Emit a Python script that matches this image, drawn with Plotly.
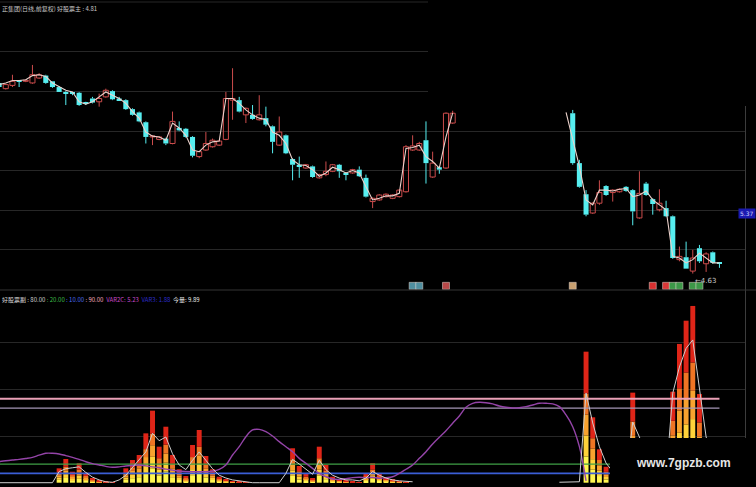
import plotly.graph_objects as go

# ---------------- price pane (daily candles, None = no price drawn) ----------------
opens = [6.96, 6.89, 6.93, 6.99, 6.98, 6.96, 7.02, 7.05, 6.98, 6.91,
         6.85, 6.84, 6.84, 6.72, 6.77, 6.73, 6.79, 6.86, 6.77, 6.75,
         6.64, 6.60, 6.48, 6.30, 6.27, 6.28, 6.22, 6.41, 6.40, 6.30,
         6.06, 6.14, 6.18, 6.20, 6.27, 6.75, 6.75, 6.57, 6.57, 6.51,
         6.53, 6.43, 6.20, 6.32, 6.03, 5.96, 5.92, 5.94, 5.80, 5.84,
         5.88, 5.96, 5.86, 5.86, 5.90, 5.80, 5.51, 5.53, 5.57, 5.55,
         5.57, 5.63, 6.14, 6.14, 6.26, 5.81, 5.93, 5.92, 6.47] + [None] * 17 + [
         6.59, 5.98, 5.60, 5.37, 5.49, 5.70, 5.62, 5.63, 5.69, 5.65,
         5.31, 5.73, 5.54, 5.41, 5.43, 5.33, 4.80, 4.83, 4.66, 4.94, 4.75, 4.89, 4.76]
highs = [6.98, 6.95, 7.06, 6.99, 7.00, 7.18, 7.08, 7.06, 6.98, 6.92,
         6.86, 6.85, 6.85, 6.73, 6.79, 6.83, 6.89, 6.87, 6.79, 6.76,
         6.65, 6.61, 6.49, 6.32, 6.31, 6.29, 6.61, 6.49, 6.41, 6.31,
         6.13, 6.36, 6.28, 6.26, 6.85, 7.14, 6.79, 6.66, 6.69, 6.81,
         6.67, 6.44, 6.55, 6.33, 6.04, 6.06, 5.97, 5.95, 5.85, 6.00,
         5.97, 5.97, 5.87, 5.91, 5.94, 5.84, 5.56, 5.60, 5.61, 5.60,
         5.66, 6.20, 6.32, 6.24, 6.49, 6.12, 5.94, 6.60, 6.62] + [None] * 17 + [
         6.63, 6.02, 5.65, 5.50, 5.77, 5.71, 5.66, 5.67, 5.70, 5.66,
         5.88, 5.75, 5.55, 5.66, 5.52, 5.34, 4.96, 5.02, 4.92, 4.98, 4.89, 4.90, 4.77]
lows = [6.90, 6.88, 6.91, 6.91, 6.97, 6.95, 7.01, 6.95, 6.90, 6.85,
        6.69, 6.81, 6.68, 6.69, 6.71, 6.67, 6.78, 6.75, 6.74, 6.63,
        6.56, 6.48, 6.22, 6.20, 6.26, 6.20, 6.21, 6.37, 6.29, 6.05,
        6.04, 6.13, 6.17, 6.19, 6.26, 6.51, 6.60, 6.47, 6.51, 6.50,
        6.43, 6.10, 6.19, 6.09, 5.77, 5.80, 5.91, 5.80, 5.79, 5.82,
        5.87, 5.80, 5.77, 5.85, 5.81, 5.56, 5.43, 5.52, 5.56, 5.54,
        5.56, 5.62, 6.13, 6.13, 5.73, 5.80, 5.85, 5.91, 6.46] + [None] * 17 + [
        5.96, 5.68, 5.33, 5.36, 5.47, 5.58, 5.51, 5.62, 5.63, 5.22,
        5.30, 5.58, 5.35, 5.39, 5.32, 4.81, 4.78, 4.69, 4.63, 4.76, 4.65, 4.75, 4.70]
closes = [6.91, 6.94, 6.98, 6.98, 6.99, 7.06, 7.06, 6.96, 6.91, 6.85,
          6.83, 6.83, 6.69, 6.71, 6.72, 6.77, 6.87, 6.76, 6.75, 6.64,
          6.57, 6.49, 6.30, 6.31, 6.30, 6.22, 6.49, 6.38, 6.30, 6.07,
          6.12, 6.22, 6.26, 6.25, 6.77, 6.77, 6.61, 6.65, 6.52, 6.57,
          6.45, 6.24, 6.36, 6.10, 5.96, 5.94, 5.96, 5.81, 5.84, 5.88,
          5.96, 5.88, 5.84, 5.90, 5.82, 5.57, 5.55, 5.59, 5.60, 5.59,
          5.65, 6.18, 6.19, 6.22, 5.98, 5.98, 5.90, 6.59, 6.59] + [None] * 17 + [
          5.98, 5.69, 5.35, 5.49, 5.62, 5.59, 5.65, 5.66, 5.64, 5.39,
          5.61, 5.59, 5.48, 5.49, 5.33, 4.82, 4.84, 4.69, 4.82, 4.78, 4.87, 4.76, 4.75]
main_line = [6.94, 6.96, 6.99, 6.99, 7.00, 7.05, 7.06, 7.04, 6.96, 6.91,
             6.87, 6.85, 6.73, 6.70, 6.73, 6.79, 6.85, 6.81, 6.77, 6.71,
             6.61, 6.53, 6.36, 6.31, 6.30, 6.26, 6.47, 6.41, 6.32, 6.14,
             6.12, 6.20, 6.24, 6.25, 6.77, 6.77, 6.71, 6.63, 6.57, 6.53,
             6.51, 6.36, 6.32, 6.22, 6.02, 5.96, 5.95, 5.90, 5.82, 5.86,
             5.93, 5.90, 5.86, 5.89, 5.86, 5.69, 5.53, 5.55, 5.58, 5.58,
             5.61, 6.16, 6.17, 6.20, 6.06, 6.00, 5.92, 6.30, 6.59] + [None] * 16 + [6.60,
             6.26, 5.94, 5.53, 5.47, 5.65, 5.65, 5.64, 5.66, 5.67, 5.57,
             5.59, 5.64, 5.53, 5.47, 5.41, 4.84, 4.82, 4.76, 4.80, 4.88, 4.82, 4.76, 4.76]
price_grid = [4.92, 5.40, 5.89, 6.37, 6.86, 7.34]
low_mark = 4.63
low_mark_idx = 104
cursor_price = 5.37
main_value = 4.81

# signal boxes under the candles
signal_idx = [62, 63, 67, 86, 98, 100, 101, 102, 104, 105]
signal_colors = ['#4f8fa0', '#4f8fa0', '#b84848', '#c8a070', '#d83030',
                 '#d83838', '#3c9848', '#3c9848', '#3c9848', '#3c9848']

# ---------------- indicator pane ----------------
vol_bars = [0] * 9 + [15.4, 25.4, 11.8, 20.8, 10.7, 4.7, 2.0, 1.0, 0.5] + [0] + [
    15.4, 24.3, 29.7, 52.9, 77.2, 38.6, 60.0, 29.7, 14.4, 7.2, 40.4, 56.5, 28.6,
    14.4, 6.4, 3.6, 1.5, 1.0, 0.5] + [0] * 6 + [
    36.9, 17.9, 9.3, 4.7, 38.6, 19.0, 6.4, 3.6, 2.0, 1.0, 0.5, 10.0, 20.8, 10.0,
    5.8, 3.0, 1.5, 0.5] + [0] * 26 + [
    140.4, 70.1, 35.8, 17.1, 8.5, 4.2, 2.1, 96.5, 45.0, 22.0, 11.0, 5.5, 2.8,
    97.5, 148.7, 173.6, 189.4, 95.0, 45.0, 22.0, 11.0]
vol_line = [0] * 9 + [12, 15, 16, 17, 11, 6, 3, 1, 0.5] + [3] + [
    8, 16, 24, 33, 53, 45, 49, 31, 19, 14, 24, 33, 24, 15, 8, 5, 3, 2, 1] + [
    0, 0, 0, 0, 0, 10] + [
    25, 20, 14, 9, 24, 14, 8, 5, 3, 3, 2, 5, 12, 8, 5, 3, 2, 1.5] + [1] + [None] * 21 + [
    0.5, 0.5, 0.5, 1] + [
    96, 64, 38.6, 21, 12, 7, 4, 65, 49, 30, 18, 10, 6, 96, 124, 144, 153, 99, 49, 28, 16]
trend_line = [22.5, 23.5, 24.3, 25.0, 26.0, 27.2, 29.5, 31.5, 31.5, 30.8,
              29.0, 27.2, 25.0, 22.5, 20.5, 19.0, 17.5, 16.5, 17.0, 17.9,
              18.5, 19.0, 18.0, 17.0, 16.0, 14.5, 13.5, 12.5, 12.0, 11.8,
              11.8, 11.8, 12.5, 14.4, 19.0, 29.7, 38.6, 49.3, 56.5, 57.2,
              54.7, 50.0, 44.0, 38.6, 33.2, 26.1, 20.8, 15.4, 10.0, 6.4,
              4.0, 3.6, 4.3, 5.4, 5.8, 5.4, 5.8, 4.7, 5.4, 6.4,
              10.0, 14.4, 19.0, 26.1, 33.2, 41.5, 48.7, 55.7, 63.7, 71.5,
              80.8, 85.1, 86.2, 85.7, 84.4, 82.2, 80.8, 80.1, 80.4, 81.5,
              83.3, 85.1, 85.1, 84.5, 81.5, 72.6, 60.0, 38.6, 2.0] + [None] * 20
ref_levels = [80.0, 20.0, 10.0, 90.0]
ref_colors = ['#a496b6', '#3f9f46', '#3b5ed6', '#eaa0b6']
ref_widths = [1.2, 1.2, 1.6, 2.0]
var2c_value = 5.23
var3_value = 1.88
today_vol = 9.89
ind_grid = [50, 100, 150]

# bar colour bands, bottom (yellow) to top (red), as fractions of bar height
bands = [(0.00, 0.20, '#fff650'), (0.20, 0.36, '#ffd23a'), (0.36, 0.52, '#f8a22e'),
         (0.52, 0.68, '#ef7524'), (0.68, 1.00, '#df2518')]

UP = '#cc4c4c'
DOWN = '#56eef0'
GRID = '#272727'
idx = list(range(len(opens)))
pts = [i for i in idx if opens[i] is not None]
up = [i for i in pts if closes[i] >= opens[i]]
dn = [i for i in pts if closes[i] < opens[i]]
MIN_BODY = 0.012


def wicks(ids):
    xs, ys = [], []
    for i in ids:
        top, bot = max(opens[i], closes[i]), min(opens[i], closes[i])
        xs += [i, i, None, i, i, None]
        ys += [highs[i], top, None, bot, lows[i], None]
    return xs, ys


fig = go.Figure()

# candle wicks and bodies
for ids, col in ((up, UP), (dn, DOWN)):
    wx, wy = wicks(ids)
    fig.add_trace(go.Scatter(x=wx, y=wy, mode='lines', xaxis='x', yaxis='y',
                             line=dict(color=col, width=1), showlegend=False,
                             hoverinfo='skip'))
fig.add_trace(go.Bar(
    x=up, base=[opens[i] for i in up],
    y=[max(closes[i] - opens[i], MIN_BODY) for i in up], width=0.76,
    marker=dict(color='rgba(0,0,0,0)', line=dict(color=UP, width=1)),
    xaxis='x', yaxis='y', showlegend=False, hoverinfo='skip'))
fig.add_trace(go.Bar(
    x=dn, base=[closes[i] for i in dn],
    y=[max(opens[i] - closes[i], MIN_BODY) for i in dn], width=0.76,
    marker=dict(color=DOWN, line=dict(width=0)),
    xaxis='x', yaxis='y', showlegend=False, hoverinfo='skip'))
fig.add_trace(go.Scatter(x=idx, y=main_line, mode='lines', xaxis='x', yaxis='y',
                         line=dict(color='#ecd2cc', width=1.1), connectgaps=False,
                         showlegend=False, hoverinfo='skip'))
fig.add_trace(go.Scatter(
    x=signal_idx, y=[4.48] * len(signal_idx), mode='markers', xaxis='x', yaxis='y',
    marker=dict(symbol='square', size=7, color=signal_colors,
                line=dict(color='#e8d8d0', width=0.5)),
    showlegend=False, hoverinfo='skip'))

# indicator pane
for lvl, col, w in zip(ref_levels, ref_colors, ref_widths):
    fig.add_trace(go.Scatter(x=[idx[0], idx[-1]], y=[lvl, lvl], mode='lines',
                             xaxis='x2', yaxis='y2', line=dict(color=col, width=w),
                             showlegend=False, hoverinfo='skip'))
fig.add_trace(go.Scatter(x=idx, y=trend_line, mode='lines', xaxis='x2', yaxis='y2',
                         line=dict(color='#9444a8', width=1.4, shape='spline'),
                         showlegend=False, hoverinfo='skip'))
for f0, f1, col in bands:
    fig.add_trace(go.Bar(x=idx, y=[v * (f1 - f0) for v in vol_bars],
                         base=[v * f0 for v in vol_bars], width=0.74,
                         marker=dict(color=col, line=dict(width=0)),
                         xaxis='x2', yaxis='y2', showlegend=False, hoverinfo='skip'))
fig.add_trace(go.Scatter(x=idx, y=vol_line, mode='lines', xaxis='x2', yaxis='y2',
                         line=dict(color='#cfcfcf', width=1), connectgaps=False,
                         showlegend=False, hoverinfo='skip'))

FONT = 'Noto Sans CJK SC, DejaVu Sans, sans-serif'
title_lo = (
    '<span style="color:#d8d8d8">好股票副</span>'
    f'<span style="color:#cfcfcf"> : {ref_levels[0]:.2f}</span>'
    f'<span style="color:#3fbf4a"> : {ref_levels[1]:.2f}</span>'
    f'<span style="color:#4a6cf0"> : {ref_levels[2]:.2f}</span>'
    f'<span style="color:#f0a8bc"> : {ref_levels[3]:.2f}</span>'
    f'<span style="color:#c848c8">  VAR2C: {var2c_value:.2f}</span>'
    f'<span style="color:#2c2cc8">  VAR3: {var3_value:.2f}</span>'
    f'<span style="color:#e8e8e8">  今量: {today_vol:.2f}</span>')

split = 197 / 487
fig.update_layout(
    width=756, height=487, margin=dict(l=0, r=0, t=0, b=0),
    paper_bgcolor='black', plot_bgcolor='black', barmode='overlay',
    showlegend=False, hovermode=False,
    xaxis=dict(domain=[0, 745 / 756], range=[0.135, 111.83], anchor='y',
               showgrid=False, zeroline=False, showticklabels=False, ticks=''),
    xaxis2=dict(domain=[0, 745 / 756], range=[0.135, 111.83], anchor='y2', matches='x',
                showgrid=False, zeroline=False, showticklabels=False, ticks=''),
    yaxis=dict(domain=[split, 1], range=[4.429, 7.974], tickvals=price_grid,
               showticklabels=False, ticks='', gridcolor=GRID, gridwidth=1,
               zeroline=False, side='right', anchor='x', showline=True,
               linecolor='#3c3c3c', linewidth=1),
    yaxis2=dict(domain=[0, split], range=[-4.6, 206.5], tickvals=ind_grid,
                showticklabels=False, ticks='', gridcolor=GRID, gridwidth=1,
                zeroline=False, side='right', anchor='x2', showline=True,
                linecolor='#3c3c3c', linewidth=1),
    shapes=[
        dict(type='line', xref='paper', yref='paper', x0=0, x1=1, y0=split, y1=split,
             line=dict(color='#353535', width=1)),
        dict(type='line', xref='paper', yref='paper', x0=0, x1=428 / 756,
             y0=1 - 2 / 487, y1=1 - 2 / 487, line=dict(color=GRID, width=1)),
        dict(type='rect', xref='paper', yref='paper', x0=428 / 756, x1=1,
             y0=1 - 106 / 487, y1=1, fillcolor='black', line=dict(width=0),
             layer='above'),
        dict(type='rect', xref='paper', yref='paper', x0=610 / 756, x1=1,
             y0=0, y1=49 / 487, fillcolor='black', line=dict(width=0), layer='above'),
    ],
    annotations=[
        dict(xref='paper', yref='paper', x=0.0, y=1 - 9 / 487, xanchor='left',
             yanchor='middle', showarrow=False,
             text=f'正集团(日线,前复权) 好股票主 : {main_value:.2f}',
             font=dict(family=FONT, size=6, color='#c8c8c8')),
        dict(xref='paper', yref='paper', x=0.0, y=(487 - 299) / 487, xanchor='left',
             yanchor='middle', showarrow=False, text=title_lo,
             font=dict(family=FONT, size=6, color='#d8d8d8')),
        dict(xref='x', yref='y', x=low_mark_idx, y=low_mark, xanchor='left',
             yanchor='top', showarrow=False, text=f'←{low_mark:.2f}', yshift=-1,
             font=dict(family='DejaVu Sans', size=7, color='#c8c8c8')),
        dict(xref='paper', yref='y', x=1.0, y=cursor_price, xanchor='right',
             yanchor='middle', showarrow=False, text=f'{cursor_price:.2f}',
             bgcolor='#1a1ab0', borderpad=1,
             font=dict(family='DejaVu Sans', size=6, color='#d0d0ff')),
        dict(xref='paper', yref='paper', x=683 / 756, y=24 / 487, xanchor='center',
             yanchor='middle', showarrow=False, text='<b>www.7gpzb.com</b>',
             font=dict(family='Liberation Sans, Arial', size=12, color='#e6e6e6')),
    ],
)

fig.write_html('out.html')
